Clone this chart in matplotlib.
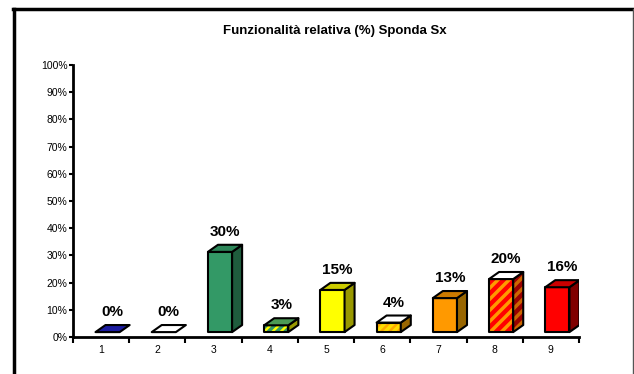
import numpy as np
import matplotlib.pyplot as plt
from matplotlib.lines import Line2D

plt.rcParams['font.family'] = ['Liberation Sans', 'DejaVu Sans']
plt.rcParams['hatch.linewidth'] = 2.5

categories = ['1', '2', '3', '4', '5', '6', '7', '8', '9']
values = [0, 0, 29.5, 2.5, 15.5, 3.5, 12.5, 19.5, 16.5]
labels = ['0%', '0%', '30%', '3%', '15%', '4%', '13%', '20%', '16%']

front_colors = ['#1c1ca0', '#2e8b57', '#339966', '#ffff00', '#ffff00',
                '#ffaa00', '#ff9900', '#ff0000', '#ff0000']
side_colors = ['#00005a', '#1f5c3d', '#1f5c3d', '#999900', '#999900',
               '#996600', '#996600', '#990000', '#800000']
top_colors = ['#1c1ca0', '#ffffff', '#2d8659', '#4c9a55', '#cccc00',
              '#ffffff', '#cc7a00', '#ffffff', '#cc0000']
hatches = [None, None, None, '////', None, '////', None, '///', None]
hatch_colors = [None, None, None, '#339966', None, '#ffdd00', None, '#ff9900', None]

# 3d geometry in data units
w = 0.43
off = -0.10
dx = 0.178
dy = 2.6
base = 1.8

fig = plt.figure(figsize=(6.34, 3.74), dpi=100)
ax = fig.add_axes([73 / 634, 1 - 337 / 374, 506 / 634, 272 / 374])

def face(pts, fc, hatch=None, hc=None, z=3):
    xs = [p[0] for p in pts]
    ys = [p[1] for p in pts]
    ax.fill(xs, ys, facecolor=fc, edgecolor='none', zorder=z)
    if hatch:
        ax.fill(xs, ys, facecolor='none', edgecolor=hc, hatch=hatch,
                linewidth=0, zorder=z)
    ax.fill(xs, ys, facecolor='none', edgecolor='black', linewidth=1.5,
            joinstyle='round', zorder=z)

for i, v in enumerate(values):
    c = i + 1
    xl = c + off
    xr = xl + w
    top = base + v
    z = 3 + i
    if v > 0:
        face([(xl, base), (xr, base), (xr, top), (xl, top)],
             front_colors[i], hatches[i], hatch_colors[i], z)
        face([(xr, base), (xr + dx, base + dy), (xr + dx, top + dy), (xr, top)],
             side_colors[i], hatches[i] if i == 7 else None, '#cc6600', z)
    face([(xl, top), (xr, top), (xr + dx, top + dy), (xl + dx, top + dy)],
         top_colors[i], None, None, z)
    ax.text(xl + (w + dx) / 2, top + dy + 2.2, labels[i], ha='center',
            va='bottom', fontsize=11, fontweight='bold', zorder=20)

ax.set_xlim(0.5, 9.5)
ax.set_ylim(0, 100)
ax.set_yticks(np.arange(0, 101, 10))
ax.set_yticklabels(['%d%%' % t for t in range(0, 101, 10)], fontsize=7.5)
ax.set_xticks(np.arange(1, 10))
ax.set_xticklabels(categories, fontsize=7.5)
ax.set_xticks(np.arange(0.5, 10, 1), minor=True)
ax.tick_params(axis='x', which='major', length=0, pad=6)
ax.tick_params(axis='x', which='minor', length=4, width=1.5, direction='out')
ax.tick_params(axis='y', length=3, width=1.5, direction='out', pad=1)
for s in ['top', 'right']:
    ax.spines[s].set_visible(False)
for s in ['left', 'bottom']:
    ax.spines[s].set_linewidth(2)

fig.text(335 / 634, 1 - 31 / 374, 'Funzionalità relativa (%) Sponda Sx',
         ha='center', va='center', fontsize=9.5, fontweight='bold')

# outer frame
fig.add_artist(Line2D([14 / 634, 14 / 634], [0, 1 - 9 / 374], color='black',
                      linewidth=2.5, transform=fig.transFigure))
fig.add_artist(Line2D([13 / 634, 1], [1 - 9 / 374, 1 - 9 / 374], color='black',
                      linewidth=2.5, transform=fig.transFigure))
fig.add_artist(Line2D([632.5 / 634, 632.5 / 634], [0, 1 - 9 / 374], color='#555555',
                      linewidth=1, transform=fig.transFigure))

fig.savefig('out.png', dpi=100)
